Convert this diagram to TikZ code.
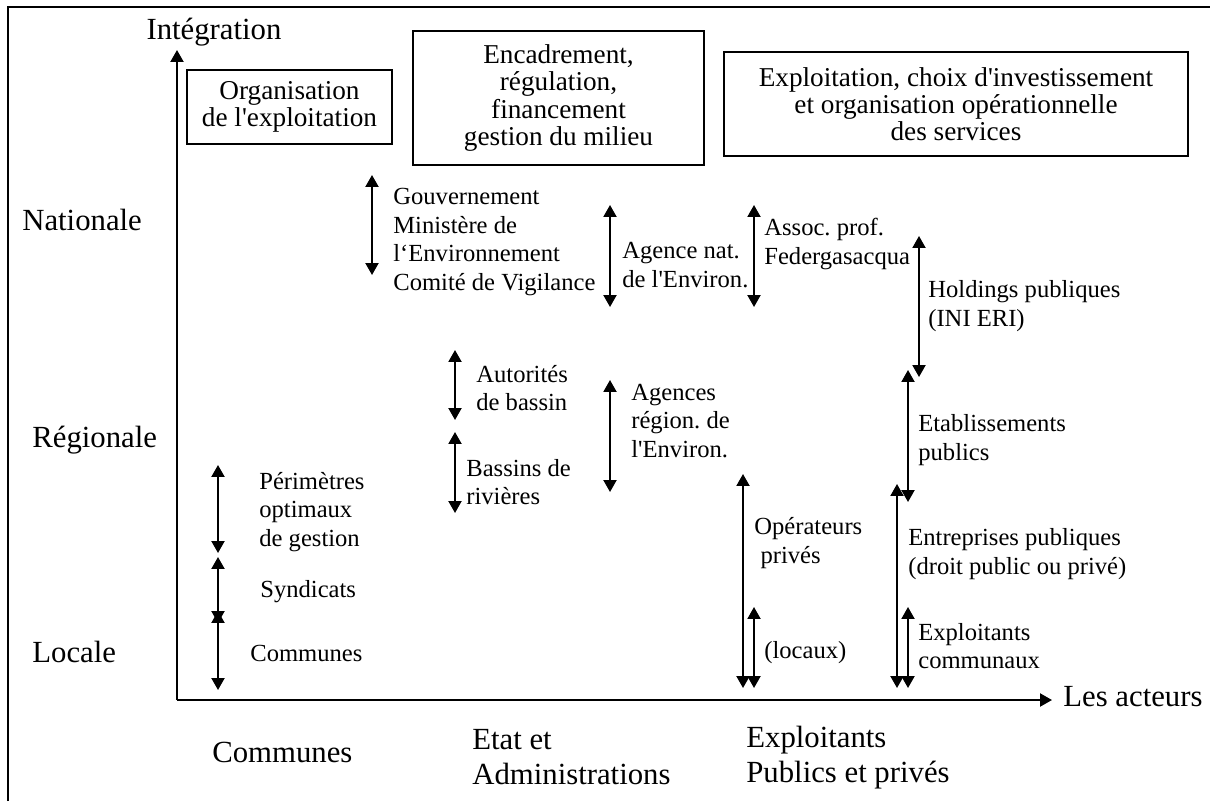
\documentclass[tikz,border=0pt]{standalone}
\usepackage{fontspec}
\newfontfamily\policeTNR{Liberation Serif}
\usetikzlibrary{arrows.meta}
\tikzset{
  fleche/.style={line width=1.1pt, {Triangle[length=6.8pt,width=7.4pt]}-{Triangle[length=6.8pt,width=7.4pt]}},
  axe/.style={line width=1.1pt, -{Triangle[length=6.8pt,width=7.4pt]}},
  grand/.style={font=\policeTNR\fontsize{17.5}{20}\selectfont, inner sep=0pt, align=left},
  petit/.style={font=\policeTNR\fontsize{14}{16.3}\selectfont, inner sep=0pt, align=left},
  cadre/.style={draw, line width=0.85pt, font=\policeTNR\fontsize{15.5}{15.5}\selectfont, align=center},
}

\begin{document}
\frenchspacing
\begin{tikzpicture}[x=0.02cm, y=-0.02cm]
  \useasboundingbox (0,0) rectangle (1216,801);
  \draw[line width=1.2pt] (8,801) -- (8,7) -- (1210,7);

  % axes
  \coordinate (O) at (177,700);
  \coordinate (ytop) at (177,50);
  \coordinate (xend) at (1052,700);
  \draw[axe] (O) -- (ytop);
  \draw[axe] (O) -- (xend);
  \node[grand] (integ) at (214,32) {Intégration};
  \node[grand, anchor=west] (acteurs) at (1063,697) {Les acteurs};

  % niveaux
  \node[grand, anchor=west] (nat) at (22,220) {Nationale};
  \node[grand, anchor=west] (reg) at (32,440) {Régionale};
  \node[grand, anchor=west] (loc) at (32,652) {Locale};

  % familles d'acteurs
  \node[grand, anchor=west] (communes) at (212,752) {Communes};
  \node[grand, anchor=west] (etat) at (472,757) {Etat et\\Administrations};
  \node[grand, anchor=west] (exploit) at (746,758) {Exploitants\\Publics et privés};

  % cadres du haut
  \node[cadre, minimum width=4.1cm, minimum height=1.48cm] (orga) at (289.5,107) {Organisation\\de l'exploitation};
  \node[cadre, minimum width=5.82cm, minimum height=2.68cm] (encadr) at (558.5,98) {Encadrement,\\régulation,\\financement\\gestion du milieu};
  \node[cadre, minimum width=9.28cm, minimum height=2.08cm] (services) at (956,104) {Exploitation, choix d'investissement\\et organisation opérationnelle\\des services};

  % fleches
  \foreach \x/\haut/\bas in {372/175/275, 610/205/307, 754/205/307, 919/236/377,
                             455/350/420, 455/432/513, 610/380/492, 908/370/502,
                             218/465/553, 218/557/623, 218/611/690,
                             743/474/688, 754/607/688, 897/484/688, 908/607/688}
    \draw[fleche] (\x,\haut) -- (\x,\bas);

  % acteurs
  \node[petit, anchor=west] (gouv) at (393,242) {Gouvernement\\Ministère de\\l‘Environnement\\Comité de Vigilance};
  \node[petit, anchor=west] (agnat) at (622,265) {Agence nat.\\de l'Environ.};
  \node[petit, anchor=west] (assoc) at (764,244) {Assoc. prof.\\Federgasacqua};
  \node[petit, anchor=west] (hold) at (928,306) {Holdings publiques\\(INI ERI)};
  \node[petit, anchor=west] (autor) at (476,388) {Autorités\\de bassin};
  \node[petit, anchor=west] (bassins) at (466,482) {Bassins de\\rivières};
  \node[petit, anchor=west] (agreg) at (631,421) {Agences\\région. de\\l'Environ.};
  \node[petit, anchor=west] (etab) at (918,440) {Etablissements\\publics};
  \node[petit, anchor=west] (perim) at (259,512) {Périmètres\\optimaux\\de gestion};
  \node[petit, anchor=west] (synd) at (260,592) {Syndicats};
  \node[petit, anchor=west] (comm) at (250,653) {Communes};
  \node[petit, anchor=west] (operat) at (754,543) {Opérateurs\\\hspace*{0.25em}privés};
  \node[petit, anchor=west] (locaux) at (764,653) {(locaux)};
  \node[petit, anchor=west] (entrep) at (908,554) {Entreprises publiques\\(droit public ou privé)};
  \node[petit, anchor=west] (expcomm) at (918,646) {Exploitants\\communaux};
\end{tikzpicture}
\end{document}
